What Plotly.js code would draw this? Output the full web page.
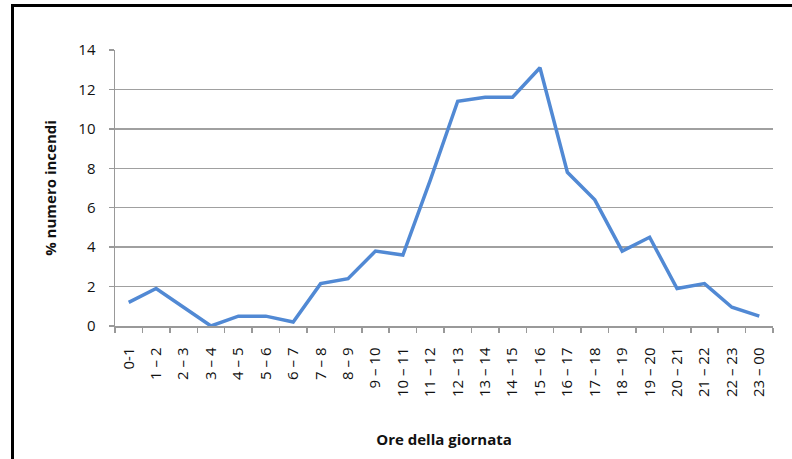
<!DOCTYPE html>
<html>
<head>
<meta charset="utf-8">
<script src="https://cdn.plot.ly/plotly-3.0.1.min.js"></script>
<style>
  html, body { margin: 0; padding: 0; background: #fff; }
  #frame { position: absolute; left: 11px; top: 4px; width: 790px; height: 460px;
           border-left: 3px solid #000; border-top: 3px solid #000; }
  #chart { position: absolute; left: 0; top: 0; width: 792px; height: 459px; }
</style>
</head>
<body>
<div id="frame"></div>
<div id="chart"></div>
<script>
const categories = ["0-1", "1 \u2013 2", "2 \u2013 3", "3 \u2013 4", "4 \u2013 5", "5 \u2013 6", "6 \u2013 7", "7 \u2013 8", "8 \u2013 9",
  "9 \u2013 10", "10 \u2013 11", "11 \u2013 12", "12 \u2013 13", "13 \u2013 14", "14 \u2013 15", "15 \u2013 16",
  "16 \u2013 17", "17 \u2013 18", "18 \u2013 19", "19 \u2013 20", "20 \u2013 21", "21 \u2013 22", "22 \u2013 23", "23 \u2013 00"];
const percentFires = [1.2, 1.9, 0.95, 0, 0.5, 0.5, 0.2, 2.15, 2.4, 3.8, 3.6, 7.4, 11.4, 11.6, 11.6, 13.1,
  7.8, 6.4, 3.8, 4.5, 1.9, 2.15, 0.95, 0.5];
const yTicks = [0, 2, 4, 6, 8, 10, 12, 14];

const font = "Open Sans, Liberation Sans, sans-serif";

Plotly.newPlot("chart", [{
  x: categories,
  y: percentFires,
  type: "scatter",
  mode: "lines",
  line: { color: "#5189D4", width: 3.5 },
  hoverinfo: "skip"
}], {
  width: 792, height: 459,
  paper_bgcolor: "rgba(0,0,0,0)",
  plot_bgcolor: "rgba(0,0,0,0)",
  margin: { l: 115, r: 19, t: 50, b: 133 },
  showlegend: false,
  font: { family: font, color: "#111" },
  xaxis: {
    type: "category",
    range: [-0.5, 23.5],
    tickson: "boundaries",
    ticks: "outside", ticklen: 5, tickcolor: "#999", tickwidth: 1.5,
    tickangle: -90,
    ticklabelstandoff: 14,
    tickfont: { size: 15, family: font, color: "#111" },
    showline: true, linecolor: "#999", linewidth: 1.5,
    showgrid: false, zeroline: false,
    automargin: false,
    title: { text: "<b>Ore della giornata</b>", font: { size: 15, family: font, color: "#111" }, standoff: 38 }
  },
  yaxis: {
    range: [0, 14],
    tickvals: yTicks,
    ticktext: yTicks.map(String),
    ticks: "outside", ticklen: 5, tickcolor: "#999", tickwidth: 1.5,
    ticklabelstandoff: 10,
    tickfont: { size: 15, family: font, color: "#111" },
    showline: true, linecolor: "#999", linewidth: 1.5,
    showgrid: true, gridcolor: "#a0a0a0", gridwidth: 1.5,
    zeroline: false,
    automargin: false,
    title: { text: "<b>% numero incendi</b>", font: { size: 15, family: font, color: "#111" }, standoff: 18 }
  }
}, { staticPlot: true });
</script>
</body>
</html>
